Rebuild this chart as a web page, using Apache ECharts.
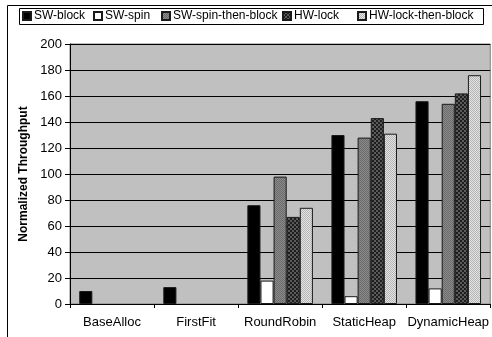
<!DOCTYPE html>
<html>
<head>
<meta charset="utf-8">
<script src="https://cdn.jsdelivr.net/npm/echarts@6/dist/echarts.min.js"></script>
<style>
  html, body { margin: 0; padding: 0; background: #fff; }
  #chart { width: 492px; height: 337px; }
</style>
</head>
<body>
<div id="chart"></div>
<script>
// Normalized throughput per allocator, one series per locking scheme
const categories = ['BaseAlloc', 'FirstFit', 'RoundRobin', 'StaticHeap', 'DynamicHeap'];
const seriesNames = ['SW-block', 'SW-spin', 'SW-spin-then-block', 'HW-lock', 'HW-lock-then-block'];
const swBlock = [10, 13, 76, 130, 156];
const swSpin = [null, null, 18, 6, 12];
const swSpinThenBlock = [null, null, 98, 128, 154];
const hwLock = [null, null, 67, 143, 162];
const hwLockThenBlock = [null, null, 74, 131, 176];
const yTicks = [0, 20, 40, 60, 80, 100, 120, 140, 160, 180, 200];

// Small checker tiles used as bar fills
function checker(a, b, cell) {
  const c = document.createElement('canvas');
  c.width = cell * 2; c.height = cell * 2;
  const g = c.getContext('2d');
  g.fillStyle = a; g.fillRect(0, 0, c.width, c.height);
  g.fillStyle = b;
  g.fillRect(0, 0, cell, cell);
  g.fillRect(cell, cell, cell, cell);
  return { image: c, repeat: 'repeat' };
}

const fills = [
  '#000000',
  '#ffffff',
  checker('#8a8a8a', '#6c6c6c', 1),
  checker('#5a5a5a', '#1e1e1e', 2),
  checker('#e4e4e4', '#b4b4b4', 1)
];
const values = [swBlock, swSpin, swSpinThenBlock, hwLock, hwLockThenBlock];

const font = 'Liberation Sans, Arial, sans-serif';
const legendLeft = [22, 93, 161, 282, 357];

const chart = echarts.init(document.getElementById('chart'), null, { renderer: 'canvas' });

chart.setOption({
  animation: false,
  backgroundColor: '#ffffff',
  textStyle: { fontFamily: font },
  graphic: [
    { type: 'rect', z: -1, shape: { x: 7.5, y: 5.5, width: 700, height: 700 },
      style: { fill: 'none', stroke: '#000', lineWidth: 1 } },
    { type: 'rect', z: 10, shape: { x: 19.5, y: 8.5, width: 464, height: 16 },
      style: { fill: 'none', stroke: '#000', lineWidth: 1 } }
  ],
  legend: seriesNames.map((n, i) => ({
    data: [n],
    left: legendLeft[i],
    top: 10,
    padding: 0,
    itemWidth: 8,
    itemHeight: 8,
    itemGap: 0,
    icon: 'rect',
    selectedMode: false,
    textStyle: { fontFamily: font, fontSize: 12, color: '#000', padding: [0, 0, 0, -2] }
  })),
  grid: {
    left: 70, right: 1, top: 44, bottom: 33,
    show: true, backgroundColor: '#c0c0c0', borderColor: '#808080', borderWidth: 1
  },
  xAxis: {
    type: 'category',
    data: categories,
    axisLine: { lineStyle: { color: '#000', width: 1 } },
    axisTick: { show: true, length: 4, lineStyle: { color: '#000' } },
    axisLabel: { fontFamily: font, fontSize: 13, color: '#000', margin: 12, interval: 0 },
    splitLine: { show: false }
  },
  yAxis: {
    type: 'value',
    min: yTicks[0],
    max: yTicks[yTicks.length - 1],
    interval: 20,
    name: 'Normalized Throughput',
    nameLocation: 'middle',
    nameRotate: 90,
    nameGap: 38,
    nameTextStyle: { fontFamily: font, fontSize: 12, fontWeight: 'bold', color: '#000' },
    axisLine: { show: true, lineStyle: { color: '#000', width: 1 } },
    axisTick: { show: true, length: 5, inside: false, lineStyle: { color: '#000' } },
    axisLabel: { fontFamily: font, fontSize: 13, color: '#000', margin: 8 },
    splitLine: { show: true, lineStyle: { color: '#000', width: 1 } }
  },
  series: seriesNames.map((n, i) => ({
    name: n,
    type: 'bar',
    data: values[i],
    barGap: '0%',
    barCategoryGap: '22%',
    itemStyle: { color: fills[i], borderColor: '#1a1a1a', borderWidth: 1 }
  }))
});
</script>
</body>
</html>
